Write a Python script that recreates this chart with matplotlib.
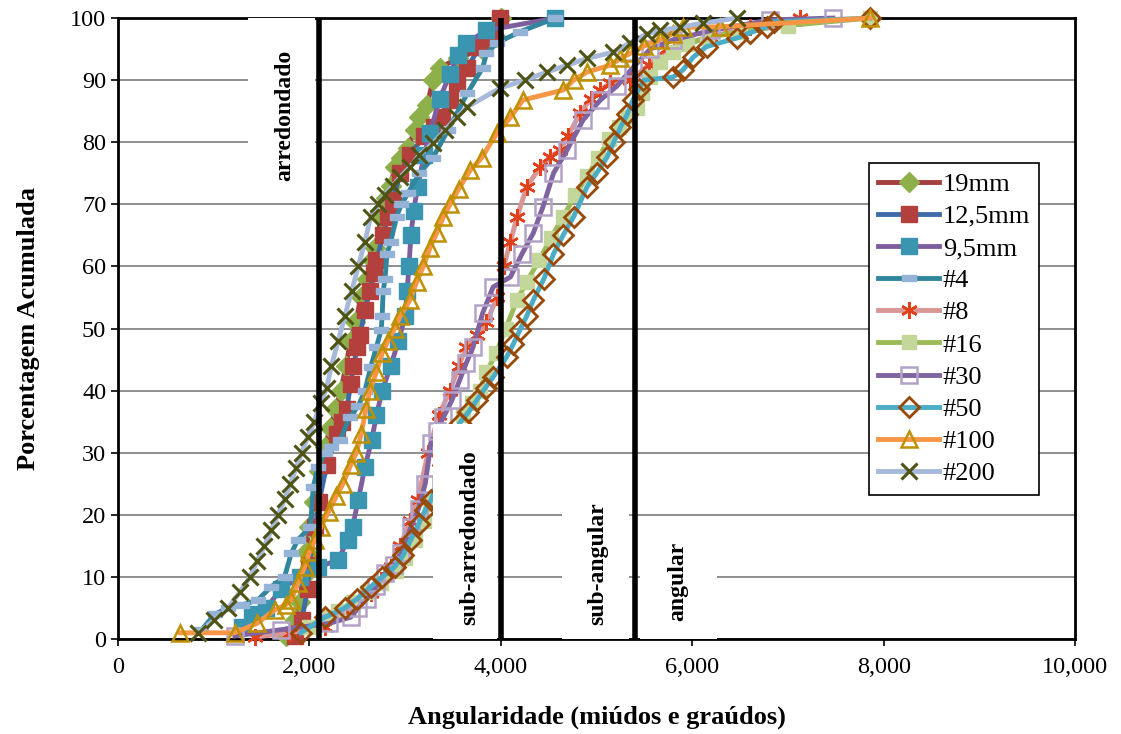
import matplotlib
matplotlib.use("Agg")
import matplotlib.pyplot as plt
from matplotlib.patches import Rectangle
from matplotlib.ticker import StrMethodFormatter

plt.rcParams["font.family"] = ["Liberation Serif", "DejaVu Serif"]

# ---- data ----
x_19 = [1750, 1850, 1900, 1930, 1960, 2000, 2050, 2100, 2160, 2220, 2270, 2330, 2380, 2430, 2480,
        2540, 2600, 2650, 2690, 2750, 2800, 2850, 2890, 2960, 3030, 3100, 3150, 3230, 3290, 3360,
        3550, 3800, 3950, 4000]
y_19 = [0.5, 3, 6, 10, 14, 18, 22, 27, 31, 34, 37, 40, 44, 48, 51,
        55, 58, 61, 63, 68, 71, 73, 76, 77.5, 79, 82, 84, 86, 90, 92,
        93.5, 95, 97, 100]

x_125 = [1850, 1920, 1980, 2000, 2060, 2100, 2180, 2290, 2340, 2390, 2430, 2460, 2500, 2530, 2580,
         2630, 2670, 2700, 2770, 2820, 2870, 2950, 3050, 3200, 3300, 3380, 3470, 3540, 3650, 3780,
         3900, 3990]
y_125 = [0.5, 3, 8, 12, 18, 22, 28, 33, 35, 37, 41, 44, 47, 49, 53,
         56, 59, 61, 65, 68, 70.7, 75, 78, 81, 82.5, 84, 86.8, 89.5, 92, 95.4,
         97, 100]

x_95 = [1300, 1400, 1550, 1700, 1900, 2090, 2300, 2400, 2450, 2510, 2580, 2650, 2700, 2760, 2850,
        2930, 3000, 3020, 3040, 3060, 3090, 3130, 3200, 3260, 3360, 3470, 3550, 3640, 3850, 4570]
y_95 = [2, 4, 5, 8, 10, 11.6, 12.7, 16, 18, 22.4, 27.7, 32, 36, 40, 44,
        48, 52, 56, 60, 65, 69, 72.8, 78, 81.5, 87, 91, 94, 96, 98, 100]

x_4 = [870, 1010, 1150, 1300, 1460, 1600, 1740, 1810, 1880, 2010, 2040, 2090, 2160, 2230, 2320,
       2420, 2510, 2580, 2640, 2700, 2750, 2760, 2770, 2790, 2810, 2850, 2910, 2960, 3030, 3150,
       3290, 3450, 3650, 3810, 3850, 3960, 4200, 4570]
y_4 = [1.4, 4, 5, 5.5, 6.3, 8.4, 10, 13.8, 16, 18, 24.5, 27.7, 30, 31, 32,
       35.7, 37.5, 40, 43.8, 47, 49.8, 52, 56, 58, 62, 64, 68, 70, 71.8, 75,
       77.5, 82, 87.9, 92, 94.3, 96, 97.8, 100]

x_8 = [1430, 1800, 2160, 2400, 2640, 2750, 2850, 2950, 3050, 3130, 3240, 3350, 3470, 3560, 3640,
       3750, 3850, 3960, 4030, 4100, 4170, 4270, 4410, 4510, 4620, 4700, 4830, 4940, 5040, 5140,
       5350, 5550, 5740, 5950, 6190, 6600, 7130]
y_8 = [0.3, 1, 2, 4.5, 7.4, 9.5, 11.6, 15, 19, 22.4, 30, 36, 40, 44, 47,
       49, 51, 55, 60, 64, 68, 72.8, 76, 77.6, 78.7, 81, 84.7, 87, 88.4, 89.5,
       90, 92.5, 95, 96, 97, 98.5, 100]

x_16 = [2000, 2150, 2300, 2450, 2600, 2750, 2900, 3000, 3100, 3200, 3260, 3600, 3700, 3780, 3850,
        3950, 4050, 4170, 4270, 4400, 4520, 4650, 4780, 4900, 5020, 5130, 5230, 5330, 5420, 5480,
        5560, 5660, 5800, 5950, 6150, 6500, 7000, 7860]
y_16 = [2, 3.5, 4.5, 6, 7.5, 9, 11, 13, 16, 19, 22, 36, 38, 40, 43,
        46, 50, 54.6, 57.5, 61, 64.5, 68, 71.5, 74.5, 77.5, 80.5, 82.5, 84, 85.5, 88,
        90.5, 93, 94.5, 95.8, 96.8, 97.8, 98.8, 100]

x_30 = [1220, 1700, 2200, 2430, 2510, 2600, 2700, 2790, 2880, 2960, 3060, 3140, 3210, 3270, 3330,
        3400, 3490, 3570, 3640, 3710, 3810, 3920, 4100, 4220, 4340, 4440, 4550, 4690, 4860, 5040,
        5210, 5380, 5560, 5800, 6200, 6810, 7470]
y_30 = [0.5, 1.5, 2.5, 3.5, 5, 6.5, 8.5, 10.6, 12, 13.8, 18, 21, 25, 31.6, 33.5,
        35.7, 38.5, 41.7, 44.5, 47, 52.5, 56.7, 58.3, 62, 65.4, 69.6, 75, 78.7, 83.6, 86.8,
        89, 92, 95, 96.5, 98, 99.7, 100]

x_50 = [1910, 2160, 2370, 2500, 2640, 2760, 2890, 2980, 3060, 3140, 3210, 3270, 3400, 3490, 3570,
        3660, 3750, 3840, 3920, 4060, 4130, 4200, 4270, 4340, 4450, 4550, 4650, 4760, 4900, 5000,
        5110, 5180, 5250, 5320, 5380, 5440, 5490, 5800, 5900, 6010, 6150, 6470, 6600, 6780, 6850,
        7860]
y_50 = [1, 3.5, 5, 6.5, 8.4, 10, 11.6, 13.5, 16, 18.5, 20.8, 22.4, 28, 31, 34.8,
        36.5, 38.5, 40.5, 42.2, 45.4, 47.5, 49.8, 52, 54.6, 58, 62, 65, 68, 72.8, 75,
        77.6, 80, 82.4, 84.5, 86.8, 88.5, 90, 90.5, 91.6, 93.7, 95.4, 96.8, 97.6, 98.6, 99.4,
        100]

x_100 = [650, 1220, 1450, 1640, 1750, 1810, 1880, 1950, 2000, 2060, 2120, 2200, 2280, 2350, 2430,
         2490, 2540, 2590, 2630, 2700, 2760, 2820, 2890, 2950, 3050, 3120, 3190, 3260, 3330, 3400,
         3470, 3560, 3680, 3800, 3960, 4100, 4230, 4650, 4760, 4900, 5140, 5250, 5350, 5500, 5660,
         5800, 5900, 6290, 7860]
y_100 = [1, 1, 2.5, 4.7, 5.5, 6.3, 9, 11.6, 14, 16, 18, 20.5, 23, 25, 28,
         30, 33, 37, 40, 43, 46, 48, 50, 52, 54.6, 57.5, 60, 63, 65.4, 68,
         70, 72.5, 75.5, 77.5, 81.5, 84, 86.8, 88.4, 90, 91.3, 92.4, 93.5, 94.3, 95.5, 96.5,
         97.5, 98.5, 98.6, 100]

x_200 = [836, 1000, 1150, 1270, 1380, 1450, 1530, 1600, 1670, 1740, 1800, 1860, 1920, 1980, 2050,
         2120, 2180, 2230, 2300, 2370, 2440, 2510, 2580, 2640, 2720, 2790, 2870, 2950, 3050, 3150,
         3290, 3420, 3540, 3650, 3990, 4250, 4480, 4690, 4900, 5170, 5350, 5530, 5660, 5870, 6110,
         6470]
y_200 = [1, 3, 5, 7.5, 10, 12.5, 15, 17.5, 20, 22.5, 25, 27.5, 30, 32.5, 35,
         38, 40.5, 44, 48, 52, 56, 60, 64, 68, 70, 71.5, 73, 74.4, 76, 78,
         79.8, 82, 84, 85.7, 88.7, 90, 91.3, 92.4, 93.5, 94.5, 96, 97.5, 98, 98.5, 99.2,
         100]

series_labels = ["19mm", "12,5mm", "9,5mm", "#4", "#8", "#16", "#30", "#50", "#100", "#200"]
class_bounds = [2100, 4000, 5400]
class_names = ["arredondado", "sub-arredondado", "sub-angular", "angular"]

# a small flat rectangle used as the "#4" marker
DASH = [(-1, -0.4), (1, -0.4), (1, 0.4), (-1, 0.4), (-1, -0.4)]

styles = [
    dict(color="#A3403D", marker="D", ms=10, mfc="#8DB04A", mec="#8DB04A"),
    dict(color="#3F6CA8", marker="s", ms=11, mfc="#B3403C", mec="#B3403C"),
    dict(color="#7D5FA0", marker="s", ms=11, mfc="#3A96B0", mec="#3A96B0"),
    dict(color="#31859C", marker=DASH, ms=10, mfc="#95B3D7", mec="#95B3D7"),
    dict(color="#D99694", marker=(6, 2, 0), ms=12, mfc="#E0401A", mec="#E0401A", mew=1.8),
    dict(color="#9BBB59", marker="s", ms=10, mfc="#C4D79B", mec="#C4D79B"),
    dict(color="#8064A2", marker="s", ms=11, mfc="none", mec="#B3A2C7", mew=1.8),
    dict(color="#4BACC6", marker="D", ms=10, mfc="none", mec="#984807", mew=2),
    dict(color="#F79646", marker="^", ms=12, mfc="none", mec="#BF9000", mew=1.8),
    dict(color="#A7B9DA", marker="x", ms=12, mfc="#4F5415", mec="#4F5415", mew=2.2),
]

xs = [x_19, x_125, x_95, x_4, x_8, x_16, x_30, x_50, x_100, x_200]
ys = [y_19, y_125, y_95, y_4, y_8, y_16, y_30, y_50, y_100, y_200]

fig = plt.figure(figsize=(11.21, 7.34), dpi=100)
ax = fig.add_axes([0.1053, 0.1294, 0.8537, 0.846])

for x, y, lab, st in zip(xs, ys, series_labels, styles):
    ax.plot(x, y, lw=3.5, label=lab, clip_on=False, zorder=3, **st)

ax.set_xlim(0, 10000)
ax.set_ylim(0, 100)
ax.set_xticks(range(0, 10001, 2000))
ax.set_yticks(range(0, 101, 10))
ax.xaxis.set_major_formatter(StrMethodFormatter("{x:,.0f}"))
ax.tick_params(labelsize=17.5, direction="out", length=5, width=1.2, colors="black")
ax.tick_params(axis="x", pad=8)
ax.grid(True, axis="y", color="#868686", lw=1.3, zorder=0)
ax.set_axisbelow(True)
for s in ax.spines.values():
    s.set_linewidth(2)
    s.set_color("black")

# white boxes behind the class labels (they hide grid and curves)
boxes = [(1358, 73, 700, 27), (3290, 0, 670, 34.6), (4640, 0, 700, 26), (5455, 0, 800, 19)]
for bx, by, bw, bh in boxes:
    ax.add_patch(Rectangle((bx, by), bw, bh, facecolor="white", edgecolor="none", zorder=5))

for xv in class_bounds:
    ax.axvline(xv, color="black", lw=4, zorder=6)

label_pos = [(1745, 84.4), (3680, 16.3), (5015, 12.2), (5850, 9.3)]
for (tx, ty), name in zip(label_pos, class_names):
    ax.text(tx, ty, name, rotation=90, ha="center", va="center", fontsize=17,
            fontweight="bold", zorder=7)

ax.set_xlabel("Angularidade (miúdos e graúdos)", fontsize=19, fontweight="bold", labelpad=20)
ax.set_ylabel("Porcentagem Acumulada", fontsize=19, fontweight="bold", labelpad=22)

leg = ax.legend(loc="upper left", bbox_to_anchor=(0.7847, 0.7665), borderaxespad=0,
                fontsize=19, handlelength=2.3, labelspacing=0.33, handletextpad=0.15,
                borderpad=0.35, fancybox=False, framealpha=1, edgecolor="black")
leg.get_frame().set_linewidth(1.2)
leg.set_zorder(8)

fig.savefig("out.png", dpi=100, facecolor="white")
